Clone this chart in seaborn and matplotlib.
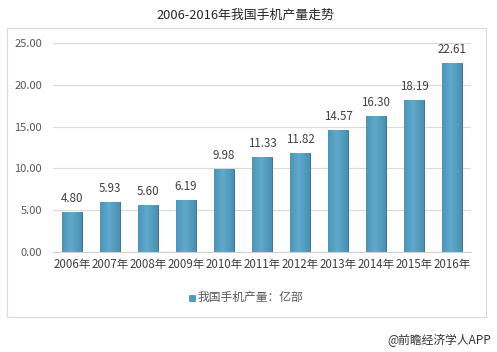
import numpy as np
import pandas as pd
import matplotlib
matplotlib.use("Agg")
import matplotlib.pyplot as plt
import seaborn as sns
from matplotlib.patches import Rectangle
from matplotlib.colors import LinearSegmentedColormap

years = ["2006年", "2007年", "2008年", "2009年", "2010年", "2011年",
         "2012年", "2013年", "2014年", "2015年", "2016年"]
values = [4.80, 5.93, 5.60, 6.19, 9.98, 11.33, 11.82, 14.57, 16.30, 18.19, 22.61]
series_name = "我国手机产量：亿部"
title = "2006-2016年我国手机产量走势"
footer = "@前瞻经济学人APP"
yticks = [0, 5, 10, 15, 20, 25]

sns.set_theme(style="white")
plt.rcParams['font.family'] = ['Noto Sans CJK SC', 'DejaVu Sans']

df = pd.DataFrame({"year": years, "value": values})

fig = plt.figure(figsize=(4.97, 3.52), dpi=100)
ax = fig.add_axes([53/497, 1-252/352, (471-53)/497, (252-43)/352])

sns.barplot(data=df, x="year", y="value", color="#4f9bbf", width=0.52,
            ax=ax, saturation=1, edgecolor="#3a7592", linewidth=0.7)

# subtle horizontal shading on each bar
grad = np.linspace(0, 1, 64)
prof = np.clip(1 - np.abs(grad - 0.45) * 1.2, 0, 1)
cmap = LinearSegmentedColormap.from_list("b", ["#3f82a3", "#5eaacd"])
for patch in ax.patches:
    x0, y0 = patch.get_x(), patch.get_y()
    w, h = patch.get_width(), patch.get_height()
    im = ax.imshow(prof[None, :], cmap=cmap, aspect="auto",
                   extent=[x0, x0 + w, y0, y0 + h], zorder=patch.get_zorder() + 0.1,
                   vmin=0, vmax=1)
    im.set_clip_path(patch)

ax.set_xlim(-0.5, len(years) - 0.5)
ax.set_ylim(0, 25)
ax.set_yticks(yticks)
ax.set_yticklabels([f"{v:.2f}" for v in yticks], fontsize=8, color="#595959")
ax.tick_params(axis="x", labelsize=8.3, colors="#404040", length=0, pad=4)
ax.tick_params(axis="y", length=0, pad=8)
ax.set_xlabel("")
ax.set_ylabel("")
ax.grid(axis="y", color="#d9d9d9", linewidth=0.8)
ax.set_axisbelow(True)
for s in ["top", "right", "left"]:
    ax.spines[s].set_visible(False)
ax.spines["bottom"].set_color("#d0d0d0")
ax.spines["bottom"].set_linewidth(0.8)

for i, v in enumerate(values):
    ax.annotate(f"{v:.2f}", (i, v), xytext=(0, 5), textcoords="offset points",
                ha="center", va="bottom", fontsize=8.3, color="#404040")

# outer frame
fig.patches.append(Rectangle((7/497, 1-317/352), (486-7)/497, (317-28)/352,
                             transform=fig.transFigure, fill=False,
                             edgecolor="#d9d9d9", linewidth=0.8))

fig.text(245/497, 1-15/352, title, ha="center", va="center", fontsize=9.3, color="#262626")

# legend
fig.patches.append(Rectangle((189/497, 1-301/352), 6/497, 6/352, transform=fig.transFigure,
                             facecolor="#4f9bbf", edgecolor="#3a7592", linewidth=0.4))
fig.text(198/497, 1-297/352, series_name, ha="left", va="center", fontsize=8.5, color="#595959")

fig.text(491/497, 1-340/352, footer, ha="right", va="center", fontsize=8.5, color="#333333")

fig.savefig("out.png", dpi=100)
